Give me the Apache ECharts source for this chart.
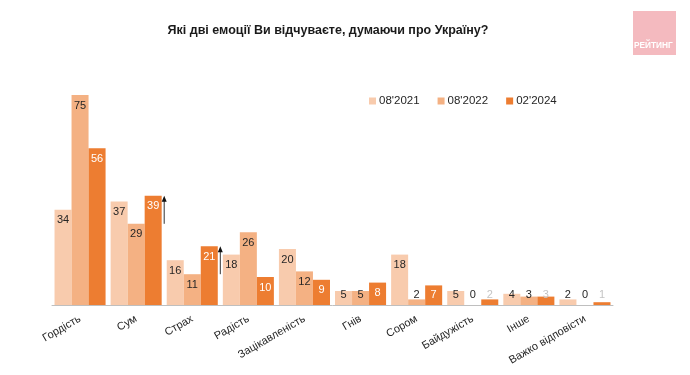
<!DOCTYPE html>
<html>
<head>
<meta charset="utf-8">
<script src="https://cdn.jsdelivr.net/npm/echarts@6/dist/echarts.min.js"></script>
<style>
  html, body { margin: 0; padding: 0; background: #fff; }
  #chart { width: 690px; height: 375px; }
</style>
</head>
<body>
<div id="chart"></div>
<script>
var categories = ['Гордість', 'Сум', 'Страх', 'Радість', 'Зацікавленість', 'Гнів', 'Сором', 'Байдужість', 'Інше', 'Важко відповісти'];
var seriesNames = ["08'2021", "08'2022", "02'2024"];
var values2021 = [34, 37, 16, 18, 20, 5, 18, 5, 4, 2];
var values2022 = [75, 29, 11, 26, 12, 5, 2, 0, 3, 0];
var values2024 = [56, 39, 21, 10, 9, 8, 7, 2, 3, 1];
// arrows: growth from 08'2022 to 02'2024
var arrowCats = ['Сум', 'Страх'];
var arrowFrom = [29, 11];
var arrowTo = [39, 21];

var colors = ['#F8CBAD', '#F4B183', '#ED7D31'];
var font = 'Liberation Sans, Arial, sans-serif';

function makeData(vals, dark) {
    return vals.map(function (v) {
        var col = '#262626';
        if (dark) col = v < 5 ? '#c4c4c4' : '#ffffff';
        return {
            value: v,
            label: {
                position: v < 8 ? 'insideBottom' : 'insideTop',
                color: col
            }
        };
    });
}

var allVals = [values2021, values2022, values2024];
var ser = [];
for (var i = 0; i < 3; ++i) {
    ser.push({
        name: seriesNames[i],
        type: 'bar',
        barGap: 0,
        barCategoryGap: '9%',
        itemStyle: { color: colors[i] },
        label: {
            show: true,
            fontFamily: font,
            fontSize: 11,
            distance: 5
        },
        data: makeData(allVals[i], i === 2)
    });
}

var arrowData = [];
for (var j = 0; j < arrowCats.length; ++j) {
    arrowData.push([arrowCats[j], arrowFrom[j], arrowTo[j]]);
}
ser.push({
    type: 'custom',
    silent: true,
    z: 5,
    renderItem: function (params, api) {
        var idx = api.value(0);
        var x = api.coord([idx, 0])[0] + api.size([1, 0])[0] / 2;
        var y1 = api.coord([idx, api.value(1)])[1];
        var y2 = api.coord([idx, api.value(2)])[1];
        return {
            type: 'group',
            children: [
                {
                    type: 'line',
                    shape: { x1: x, y1: y1, x2: x, y2: y2 + 5 },
                    style: { stroke: '#333', lineWidth: 1 }
                },
                {
                    type: 'polygon',
                    shape: { points: [[x - 2.5, y2 + 6], [x + 2.5, y2 + 6], [x, y2]] },
                    style: { fill: '#111' }
                }
            ]
        };
    },
    data: arrowData
});

var chart = echarts.init(document.getElementById('chart'));
chart.setOption({
    animation: false,
    title: {
        text: 'Які дві емоції Ви відчуваєте, думаючи про Україну?',
        left: 323,
        textAlign: 'center',
        top: 19,
        textStyle: { fontFamily: font, fontSize: 12.5, fontWeight: 'bold', color: '#1a1a1a' }
    },
    legend: {
        data: seriesNames,
        left: 369,
        top: 95,
        padding: 0,
        itemWidth: 7,
        itemHeight: 7,
        itemGap: 18,
        icon: 'rect',
        textStyle: { fontFamily: font, fontSize: 11.5, color: '#262626', padding: [0, 0, 0, -2] }
    },
    grid: { left: 52, right: 77, top: 81, bottom: 70, containLabel: false },
    xAxis: {
        type: 'category',
        data: categories,
        axisLine: { lineStyle: { color: '#bfbfbf' } },
        axisTick: { length: 4, lineStyle: { color: '#bfbfbf' } },
        axisLabel: {
            rotate: 30,
            interval: 0,
            margin: 13,
            fontFamily: font,
            fontSize: 11,
            color: '#262626'
        }
    },
    yAxis: {
        type: 'value',
        min: 0,
        max: 80,
        show: false,
        splitLine: { show: false }
    },
    graphic: [
        {
            type: 'rect',
            left: 633, top: 11,
            shape: { width: 43, height: 44 },
            style: { fill: '#F4BABF' }
        },
        {
            type: 'text',
            left: 634, top: 42,
            style: { text: 'РЕЙТИНГ', fill: '#fff', font: 'bold 8.3px Liberation Sans, Arial, sans-serif' }
        }
    ],
    series: ser
});
</script>
</body>
</html>
